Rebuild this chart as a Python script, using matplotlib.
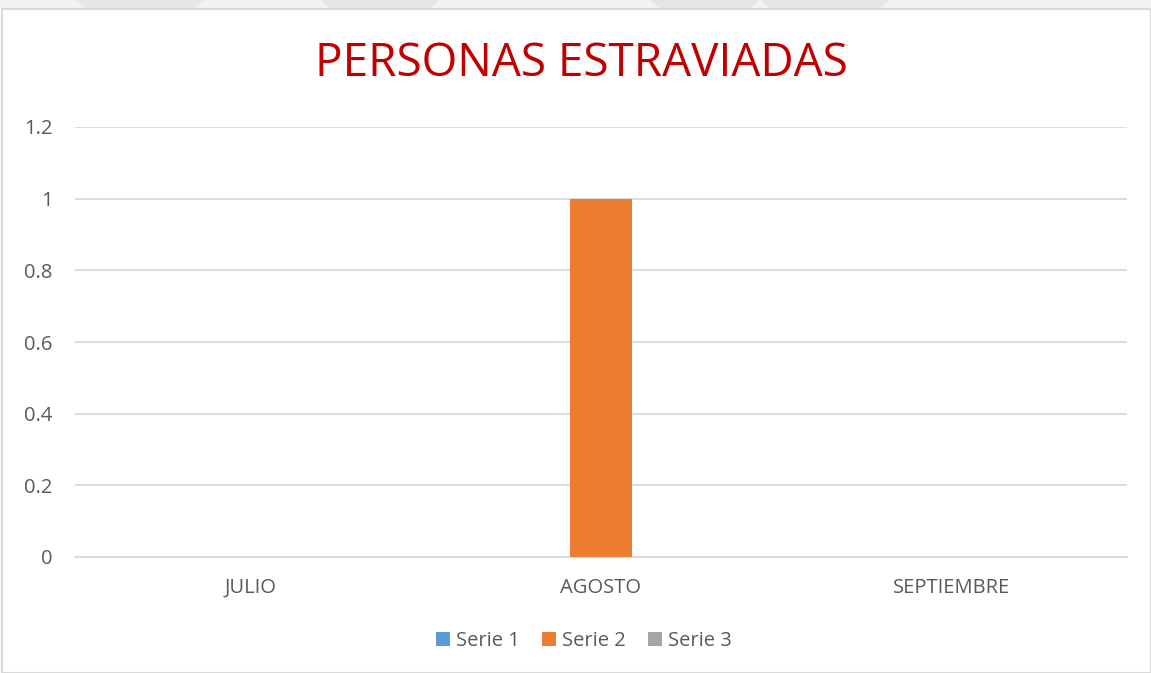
import matplotlib
matplotlib.use("Agg")
import matplotlib.pyplot as plt
from matplotlib.patches import Rectangle, Polygon
import numpy as np

categories = ["JULIO", "AGOSTO", "SEPTIEMBRE"]
serie1 = [0, 0, 0]
serie2 = [0, 1, 0]
serie3 = [0, 0, 0]
series_names = ["Serie 1", "Serie 2", "Serie 3"]
colors = ["#5B9BD5", "#ED7D31", "#A5A5A5"]
yticks = [0, 0.2, 0.4, 0.6, 0.8, 1, 1.2]
ytick_labels = ["0", "0.2", "0.4", "0.6", "0.8", "1", "1.2"]

W, H = 1151, 673
fig = plt.figure(figsize=(W / 100, H / 100), dpi=100)
fig.patch.set_facecolor("white")

# decorative top strip
fig.patches.append(Rectangle((0, 1 - 8 / H), 1, 8 / H, transform=fig.transFigure,
                             facecolor="#f3f3f4", edgecolor="none", zorder=0))
for x0, x1 in [(75, 205), (320, 440), (650, 760), (760, 890)]:
    fig.patches.append(Polygon([(x0 / W, 1), (x1 / W, 1), ((x1 - 10) / W, 1 - 8 / H), ((x0 + 10) / W, 1 - 8 / H)],
                               closed=True, transform=fig.transFigure,
                               facecolor="#e6e6ea", edgecolor="none", zorder=0))
# chart border
fig.patches.append(Rectangle((2 / W, 0), 1 - 2 / W, 1 - 9 / H, transform=fig.transFigure,
                             facecolor="white", edgecolor="#d9d9d9", linewidth=1.5, zorder=0.5))

ax = fig.add_axes([75 / W, 1 - 557 / H, (1127 - 75) / W, (557 - 127) / H])
ax.set_zorder(2)
ax.set_facecolor("none")

x = np.arange(len(categories))
bw = 0.177
all_series = [serie1, serie2, serie3]
handles = []
for i, (vals, name, c) in enumerate(zip(all_series, series_names, colors)):
    b = ax.bar(x + (i - 1) * bw, vals, width=bw, color=c, label=name, zorder=3)
    handles.append(b)

ax.set_xlim(-0.5, len(categories) - 0.5)
ax.set_ylim(0, 1.2)
ax.set_yticks(yticks)
ax.set_yticklabels(ytick_labels)
ax.set_xticks(x)
ax.set_xticklabels(categories)
ax.grid(axis="y", color="#d9d9d9", linewidth=1.3, zorder=0)
ax.set_axisbelow(True)
for s in ["top", "right", "left"]:
    ax.spines[s].set_visible(False)
ax.spines["bottom"].set_color("#d9d9d9")
ax.spines["bottom"].set_linewidth(1.3)
ax.tick_params(axis="both", length=0, colors="#595959", labelsize=14.5)
ax.tick_params(axis="y", pad=16)
ax.tick_params(axis="x", pad=15)
for lab in ax.get_xticklabels() + ax.get_yticklabels():
    lab.set_fontfamily("Open Sans")

fig.text(581 / W, 1 - 64 / H, "PERSONAS ESTRAVIADAS", color="#C00000", fontsize=33,
         ha="center", va="center", fontfamily="Open Sans")

leg = fig.legend(handles=handles, labels=series_names, loc="center", bbox_to_anchor=(584 / W, 1 - 641 / H),
                 ncol=3, frameon=False, handlelength=0.7, handleheight=0.7, handletextpad=0.3,
                 columnspacing=1.1, prop={"family": "Open Sans", "size": 14.5})
for t in leg.get_texts():
    t.set_color("#595959")

fig.savefig("out.png", dpi=100)
